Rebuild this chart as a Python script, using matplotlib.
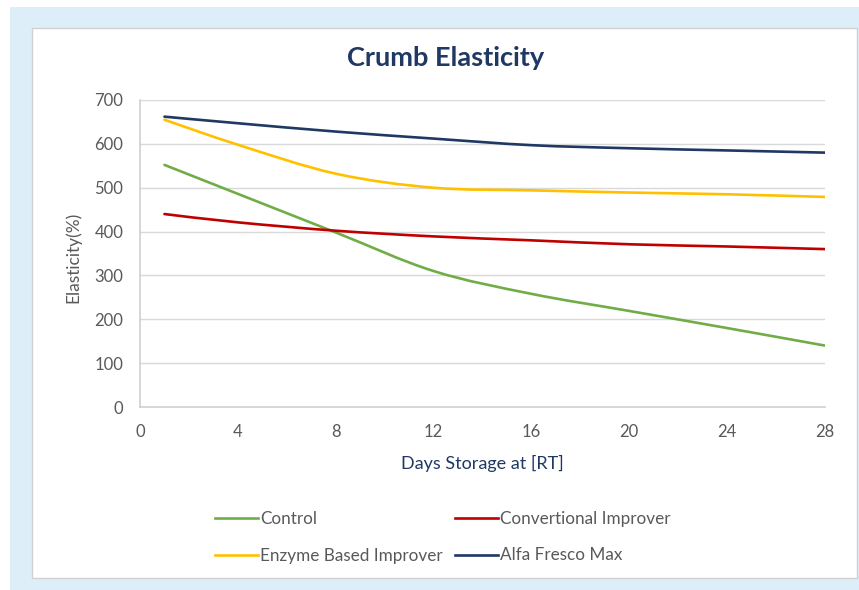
import matplotlib
matplotlib.use("Agg")
import matplotlib.pyplot as plt
from matplotlib.path import Path
from matplotlib.patches import PathPatch, Rectangle
from matplotlib.lines import Line2D

plt.rcParams["font.family"] = ["Lato", "DejaVu Sans"]

days = [1, 4, 8, 12, 16, 20, 24, 28]
control = [552, 486, 398, 310, 258, 219, 180, 140]
conventional = [440, 421, 402, 389, 380, 371, 366, 360]
enzyme = [655, 598, 532, 500, 494, 489, 485, 479]
alfa = [662, 647, 628, 612, 597, 590, 585, 580]

series_names = ["Control", "Convertional Improver", "Enzyme Based Improver", "Alfa Fresco Max"]
series_values = [control, conventional, enzyme, alfa]
series_colors = ["#70ad47", "#c00000", "#ffc000", "#1f3864"]

x_ticks = [0, 4, 8, 12, 16, 20, 24, 28]
y_ticks = [0, 100, 200, 300, 400, 500, 600, 700]

W, H = 859, 590


def smooth_path(xs, ys):
    # excel style smoothed line: cubic bezier, control points from neighbours
    pts = list(zip(xs, ys))
    verts = [pts[0]]
    codes = [Path.MOVETO]
    n = len(pts)
    for i in range(n - 1):
        p0 = pts[i - 1] if i > 0 else pts[i]
        p1 = pts[i]
        p2 = pts[i + 1]
        p3 = pts[i + 2] if i + 2 < n else pts[i + 1]
        c1 = (p1[0] + (p2[0] - p0[0]) / 6, p1[1] + (p2[1] - p0[1]) / 6)
        c2 = (p2[0] - (p3[0] - p1[0]) / 6, p2[1] - (p3[1] - p1[1]) / 6)
        verts += [c1, c2, p2]
        codes += [Path.CURVE4] * 3
    return Path(verts, codes)


fig = plt.figure(figsize=(W / 100, H / 100), dpi=100)
fig.patch.set_facecolor("white")

# light blue frame and white chart panel
fig.patches.append(Rectangle((10 / W, 0), 1 - 10 / W, 1 - 7 / H,
                             transform=fig.transFigure, facecolor="#ddeef8",
                             edgecolor="none", zorder=-3))
fig.patches.append(Rectangle((32 / W, 1 - 578 / H), (857 - 32) / W, (578 - 28) / H,
                             transform=fig.transFigure, facecolor="white",
                             edgecolor="#d0d0d0", linewidth=1.0, zorder=-2))

ax = fig.add_axes([140 / W, 1 - 407 / H, (825 - 140) / W, (407 - 100) / H])
ax.set_facecolor("none")

for vals, col in zip(series_values, series_colors):
    ax.add_patch(PathPatch(smooth_path(days, vals), facecolor="none",
                           edgecolor=col, linewidth=1.9, capstyle="round", zorder=3))

ax.set_xlim(0, 28)
ax.set_ylim(0, 700)
ax.set_xticks(x_ticks)
ax.set_yticks(y_ticks)
ax.tick_params(axis="x", length=0, pad=12, labelsize=12, labelcolor="#595959")
ax.tick_params(axis="y", length=0, pad=12, labelsize=12, labelcolor="#595959")
ax.grid(axis="y", color="#d9d9d9", linewidth=1.0)
ax.set_axisbelow(True)
for s in ["top", "right"]:
    ax.spines[s].set_visible(False)
for s in ["left", "bottom"]:
    ax.spines[s].set_color("#d0d0d0")
    ax.spines[s].set_linewidth(1.2)

ax.set_xlabel("Days Storage at [RT]", fontsize=13, color="#1f3864")
ax.xaxis.set_label_coords(0.5, (407 - 463) / 307)
ax.xaxis.label.set_va("center")
ax.set_ylabel("Elasticity(%)", fontsize=12.5, color="#595959")
ax.yaxis.set_label_coords((73 - 140) / 685, (407 - 257) / 307)
ax.yaxis.label.set_va("center")

fig.text(446 / W, 1 - 58 / H, "Crumb Elasticity", ha="center", va="center",
         fontsize=19.5, fontweight="bold", color="#1f3864")

handles = [Line2D([], [], color=c, linewidth=1.9) for c in series_colors]
order = [0, 2, 1, 3]
fig.legend([handles[i] for i in order], [series_names[i] for i in order],
           ncol=2, loc="upper left", bbox_to_anchor=(215 / W, 1 - 511 / H),
           frameon=False, fontsize=12.3, labelcolor="#595959",
           handlelength=2.5, handletextpad=0.15, columnspacing=0.7,
           labelspacing=1.2, borderpad=0, borderaxespad=0)

fig.savefig("out.png", dpi=100)
